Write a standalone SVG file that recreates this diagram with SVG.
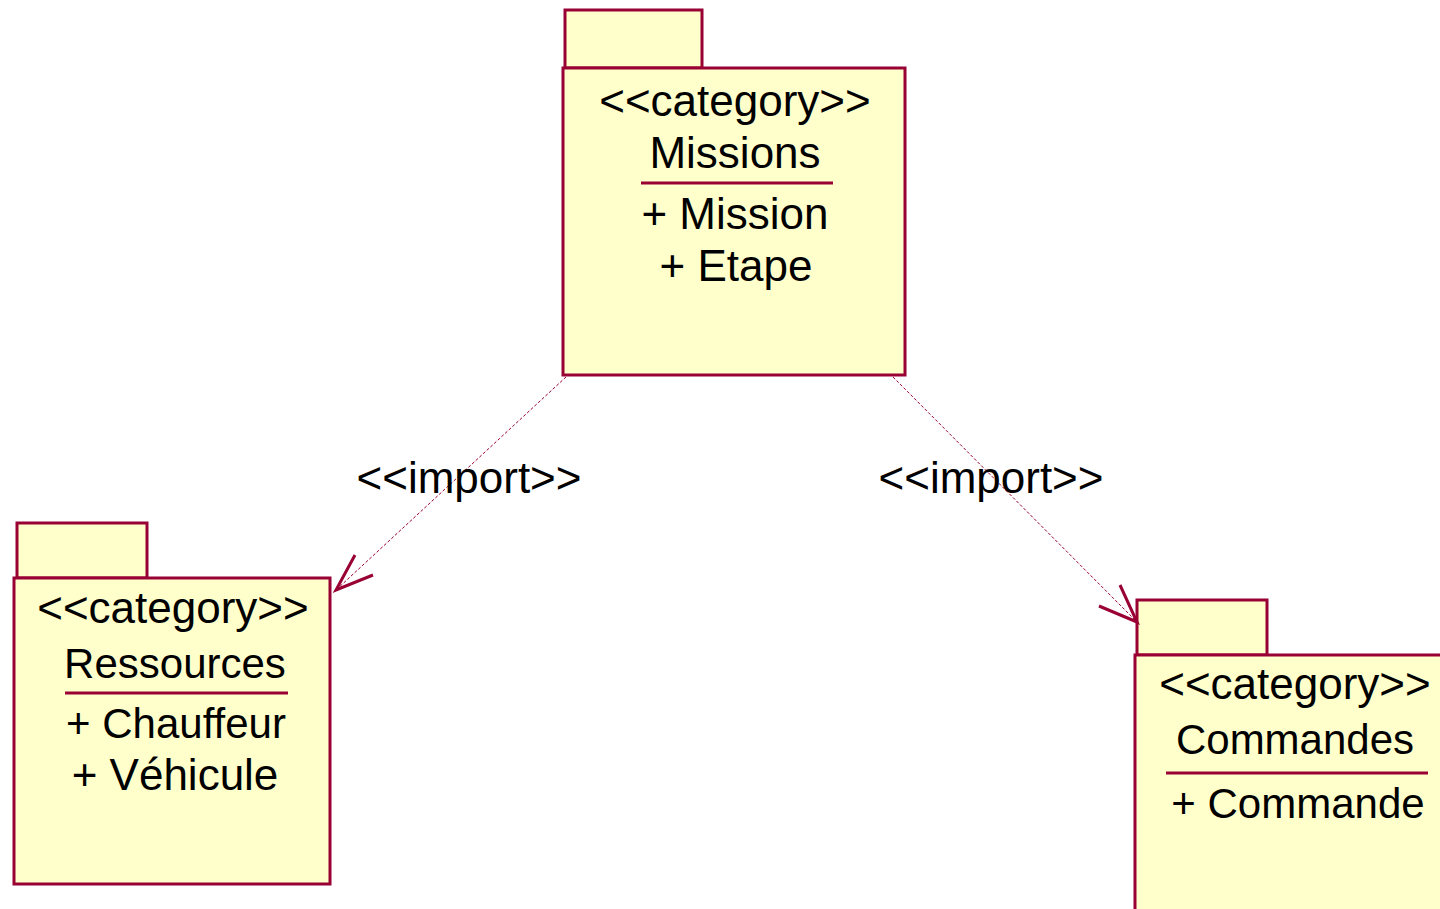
<svg xmlns="http://www.w3.org/2000/svg" width="1440" height="909" viewBox="0 0 1440 909">
<style>
.pk{fill:#FFFFCC;stroke:#990033;stroke-width:3}
.sep{stroke:#990033;stroke-width:3}
.t{font-family:"Liberation Sans",Arial,sans-serif;font-size:44px;fill:#000;text-anchor:middle}
.s{font-size:42px}
.dep{stroke:#990033;stroke-width:1;stroke-dasharray:3,2;fill:none}
.ah{stroke:#990033;stroke-width:3;fill:none}
</style>
<rect width="1440" height="909" fill="#fff"/>
<g id="missions">
<rect class="pk" x="565" y="10" width="137" height="58"/>
<rect class="pk" x="563" y="68" width="342" height="307"/>
<text class="t" x="735" y="116">&lt;&lt;category&gt;&gt;</text>
<text class="t" x="735" y="168">Missions</text>
<line class="sep" x1="641" y1="183" x2="833" y2="183"/>
<text class="t" x="735" y="229">+ Mission</text>
<text class="t" x="736" y="281">+ Etape</text>
</g>
<g id="ressources">
<rect class="pk" x="17" y="523" width="130" height="55"/>
<rect class="pk" x="14" y="578" width="316" height="306"/>
<text class="t" x="173" y="623">&lt;&lt;category&gt;&gt;</text>
<text class="t s" x="175" y="678">Ressources</text>
<line class="sep" x1="65" y1="693" x2="288" y2="693"/>
<text class="t s" x="176" y="738">+  Chauffeur</text>
<text class="t" x="175" y="790">+ Véhicule</text>
</g>
<g id="commandes">
<rect class="pk" x="1137" y="600" width="130" height="55"/>
<rect class="pk" x="1135" y="655" width="320" height="270"/>
<text class="t" x="1295" y="699">&lt;&lt;category&gt;&gt;</text>
<text class="t s" x="1295" y="754">Commandes</text>
<line class="sep" x1="1166" y1="773" x2="1428" y2="773"/>
<text class="t s" x="1298" y="818">+ Commande</text>
</g>
<g id="connectors">
<line class="dep" x1="566" y1="377" x2="336" y2="590"/>
<polyline class="ah" points="355,555 336,590 373,575"/>
<text class="t" x="469" y="493">&lt;&lt;import&gt;&gt;</text>
<line class="dep" x1="893" y1="377" x2="1137" y2="622"/>
<polyline class="ah" points="1120,585 1137,622 1099,606"/>
<text class="t" x="991" y="493">&lt;&lt;import&gt;&gt;</text>
</g>
</svg>
